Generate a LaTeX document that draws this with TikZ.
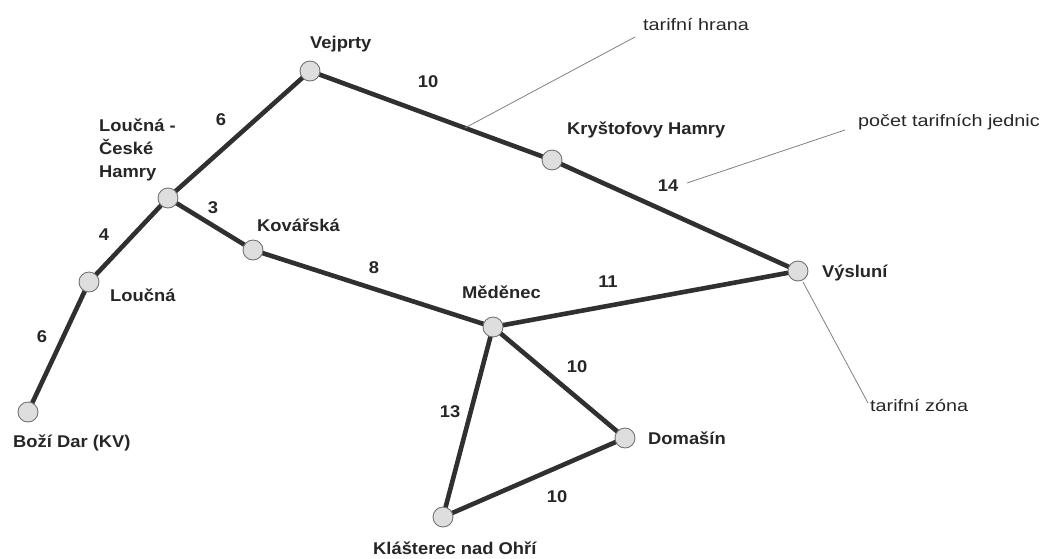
\documentclass[tikz,border=0pt]{standalone}
\usepackage{fontspec}
\setmainfont{Liberation Sans}
\newfontfamily\labfont[FakeStretch=1.08]{Liberation Sans}
\newfontfamily\notefont[FakeStretch=1.2]{Liberation Sans}
\usetikzlibrary{backgrounds,calc}
\definecolor{edgecol}{HTML}{303030}
\definecolor{txtcol}{HTML}{262626}
\begin{document}
\begin{tikzpicture}[x=1pt,y=-1pt,
  stop/.style={circle,fill=black!13,draw=black!55,line width=0.9pt,minimum size=20pt,inner sep=0pt},
  edge/.style={line width=4.6pt,draw=edgecol},
  lbl/.style={font=\labfont\bfseries\fontsize{17}{23}\selectfont,text=txtcol,inner sep=0pt},
  num/.style={lbl},
  note/.style={font=\notefont\fontsize{16.5}{20}\selectfont,text=txtcol,inner sep=0pt},
  leader/.style={draw=black!50,line width=0.8pt}]
\useasboundingbox (0,0) rectangle (1053,558);

% stations
\node[stop] (V)  at (310,71)  {};
\node[stop] (L)  at (168,198) {};
\node[stop] (K)  at (253,250) {};
\node[stop] (Lo) at (89,282)  {};
\node[stop] (B)  at (28,412)  {};
\node[stop] (KH) at (552,160) {};
\node[stop] (Vy) at (798,271) {};
\node[stop] (M)  at (493,327) {};
\node[stop] (D)  at (625,438) {};
\node[stop] (Kl) at (443,517) {};

% edges
\begin{scope}[on background layer]
\draw[edge] (B.center) -- (Lo.center);
\draw[edge] (Lo.center) -- (L.center);
\draw[edge] (L.center) -- (V.center);
\draw[edge] (L.center) -- (K.center);
\draw[edge] (V.center) -- (KH.center);
\draw[edge] (KH.center) -- (Vy.center);
\draw[edge] (K.center) -- (M.center);
\draw[edge] (M.center) -- (Vy.center);
\draw[edge] (M.center) -- (D.center);
\draw[edge] (M.center) -- (Kl.center);
\draw[edge] (Kl.center) -- (D.center);
\end{scope}

% station labels
\node[lbl,anchor=west] (tV) at (310,44) {Vejprty};
\node[lbl,anchor=north west,align=left] (tL) at (99,119) {Loučná -\\České\\Hamry};
\node[lbl,anchor=west] (tK) at (257,225) {Kovářská};
\node[lbl,anchor=west] (tLo) at (110,295) {Loučná};
\node[lbl,anchor=west] (tB) at (13,443) {Boží Dar (KV)};
\node[lbl,anchor=west] (tKH) at (567,130) {Kryštofovy Hamry};
\node[lbl,anchor=west] (tVy) at (822,273) {Výsluní};
\node[lbl,anchor=west] (tM) at (462,292) {Měděnec};
\node[lbl,anchor=west] (tD) at (648,438) {Domašín};
\node[lbl,anchor=west] (tKl) at (373,548) {Klášterec nad Ohří};

% edge values
\node[num] (n1) at (428,82)  {10};
\node[num] (n2) at (221,120) {6};
\node[num] (n3) at (213,208) {3};
\node[num] (n4) at (104,235) {4};
\node[num] (n5) at (374,268) {8};
\node[num] (n6) at (42,337)  {6};
\node[num] (n7) at (668,186) {14};
\node[num] (n8) at (608,282) {11};
\node[num] (n9) at (577,367) {10};
\node[num] (n10) at (450,412) {13};
\node[num] (n11) at (557,497) {10};

% notes
\node[note,anchor=west] (hrana) at (643,25) {tarifní hrana};
\node[note,anchor=west] (jed) at (858,122) {počet tarifních jednic};
\node[note,anchor=west] (zona) at (870,405) {tarifní zóna};

\coordinate (hA) at ($(V)!0.64!(KH)$);
\coordinate (hB) at (635,37);
\coordinate (jA) at (687,183);
\coordinate (jB) at (845,130);
\coordinate (zA) at (803,282);
\coordinate (zB) at (868,403);
\begin{scope}[on background layer]
\draw[leader] (hA) -- (hB);
\draw[leader] (jA) -- (jB);
\draw[leader] (zA) -- (zB);
\end{scope}
\end{tikzpicture}
\end{document}
